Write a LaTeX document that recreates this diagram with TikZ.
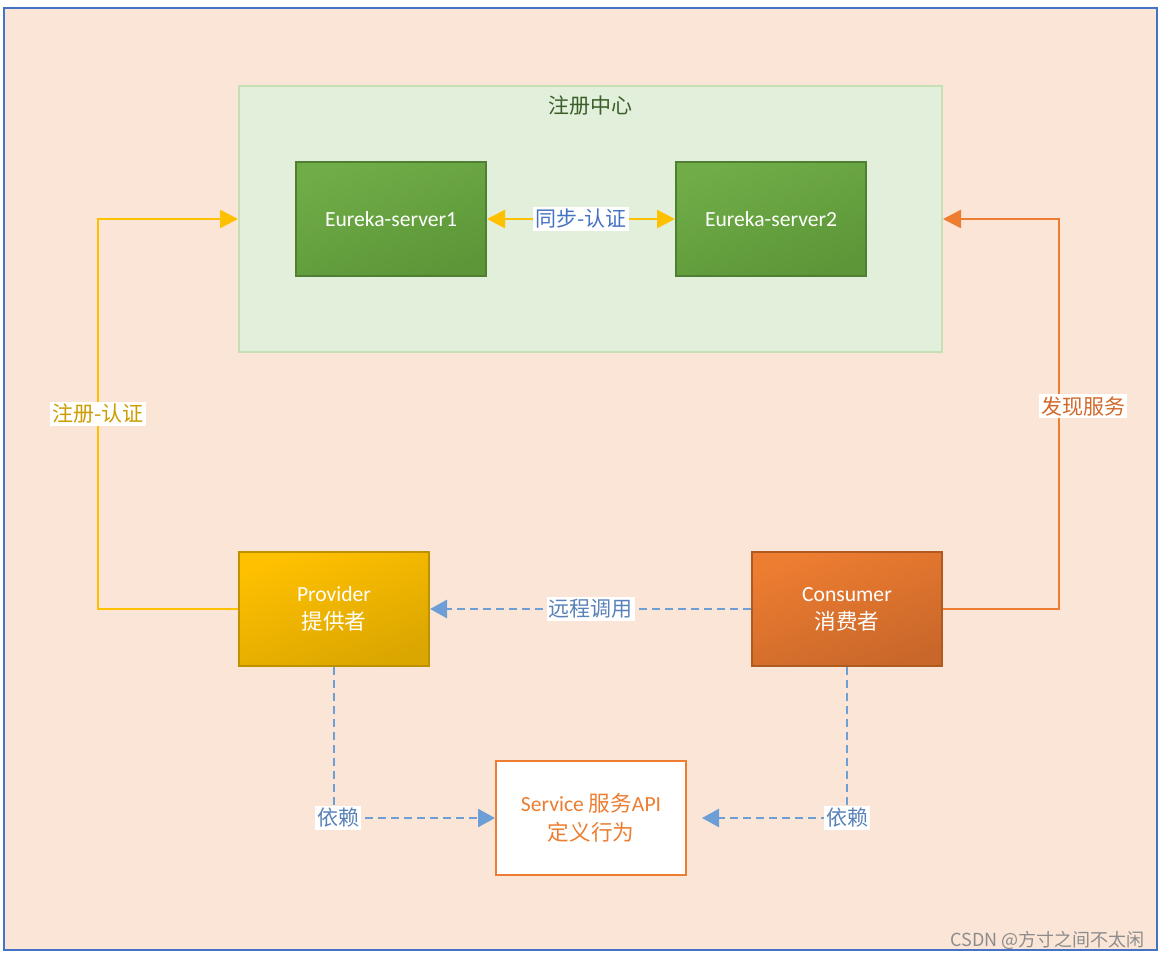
\documentclass[tikz,border=0pt]{standalone}
\usepackage{fontspec}
\setmainfont{Carlito}
\newfontfamily\cjk{Noto Sans CJK SC}
\usetikzlibrary{arrows.meta}
\definecolor{peach}{HTML}{FBE5D6}
\definecolor{frameblue}{HTML}{4472C4}
\definecolor{reggreen}{HTML}{E2EFDA}
\definecolor{regline}{HTML}{C5E0B4}
\definecolor{regtext}{HTML}{3B5E2B}
\definecolor{grlight}{HTML}{70AD47}
\definecolor{grdark}{HTML}{5C9638}
\definecolor{grline}{HTML}{507E32}
\definecolor{gold}{HTML}{FFC000}
\definecolor{golddark}{HTML}{DAA600}
\definecolor{goldline}{HTML}{BF9000}
\definecolor{goldtext}{HTML}{CC9C00}
\definecolor{orng}{HTML}{ED7D31}
\definecolor{orngdark}{HTML}{C9672A}
\definecolor{orngline}{HTML}{AE5A21}
\definecolor{orngtext}{HTML}{D2692A}
\definecolor{dashblue}{HTML}{6E9ED6}
\definecolor{labblue}{HTML}{5A82B8}
\tikzset{
  box/.style={draw, line width=1pt, minimum width=95pt, minimum height=57pt,
    align=center, text=white, inner sep=0pt},
  greenbox/.style={box, draw=grline, top color=grlight, bottom color=grdark, shading angle=20},
  lab/.style={fill=white, inner sep=1pt, font=\fontsize{10.5}{12}\selectfont\cjk},
  tip/.style={-{Triangle[length=9pt,width=9pt]}},
  dline/.style={dashblue, line width=1.3pt, dash pattern=on 4pt off 2.5pt,
    -{Triangle[length=8.5pt,width=9pt]}},
}
\begin{document}
\begin{tikzpicture}[x=0.5pt, y=-0.5pt, font=\fontsize{10.8}{14}\selectfont]
  \useasboundingbox (0,0) rectangle (1163,959);
  \fill[white] (0,0) rectangle (1163,959);
  \filldraw[draw=frameblue, fill=peach, line width=1.2pt] (4,8) rectangle (1157,950);
  % registry
  \node[draw=regline, fill=reggreen, line width=1pt, minimum width=351.5pt,
        minimum height=133pt] (reg) at (590.5,219) {};
  \node[text=regtext, font=\fontsize{10.5}{12}\selectfont\cjk] (regt) at (590,106) {注册中心};
  \node[greenbox] (es1) at (391,219) {Eureka-server1};
  \node[greenbox] (es2) at (771,219) {Eureka-server2};
  % provider, consumer, service
  \node[box, draw=goldline, top color=gold, bottom color=golddark, shading angle=20]
       (prov) at (334,609) {Provider\\{\cjk 提供者}};
  \node[box, draw=orngline, top color=orng, bottom color=orngdark, shading angle=20]
       (cons) at (847,609) {Consumer\\{\cjk 消费者}};
  \node[box, draw=orng, fill=white, text=orng, font=\fontsize{10.8}{14.5}\selectfont]
       (svc) at (591,818) {Service {\cjk 服务}API\\{\cjk 定义行为}};
  % connectors
  \coordinate (lbend) at (98,219);
  \coordinate (rbend) at (1059,219);
  \draw[gold, line width=1.3pt, {Triangle[length=9pt,width=9pt]}-{Triangle[length=9pt,width=9pt]}]
       (es1.east) -- (es2.west) node[midway, lab, text=frameblue] (sync) {同步-认证};
  \draw[gold, line width=1.3pt, tip] (prov.west) -| node[pos=0.75, lab, text=goldtext] (regl) {注册-认证}
       (lbend) -- (reg.west);
  \draw[orng, line width=1.3pt, tip] (cons.east) -| node[pos=0.76, lab, text=orngtext, xshift=12pt] (disc) {发现服务}
       (rbend) -- (reg.east);
  \draw[dline] (cons.west) -- (prov.east) node[midway, lab, text=labblue] (rpc) {远程调用};
  \draw[dline] (prov.south) |- (svc.west) node[pos=0.5, lab, text=labblue, xshift=2pt] (dep1) {依赖};
  \draw[dline] (cons.south) |- ([xshift=7.5pt]svc.east) node[pos=0.5, lab, text=labblue] (dep2) {依赖};
  % watermark
  \node[anchor=east, text=black!45, font=\fontsize{9}{10}\selectfont\cjk] (wm) at (1152,940) {CSDN @方寸之间不太闲};
\end{tikzpicture}
\end{document}
